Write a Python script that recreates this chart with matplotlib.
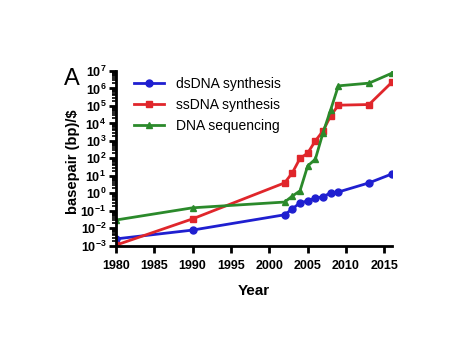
import numpy as np
import matplotlib
matplotlib.use('Agg')
import matplotlib.pyplot as plt
from matplotlib.ticker import LogLocator, FixedLocator

plt.rcParams['font.family'] = ['Liberation Sans', 'DejaVu Sans']

# ---- data ----
ds_years = [1980, 1990, 2002, 2003, 2004, 2005, 2006, 2007, 2008, 2009, 2013, 2016]
ds_vals = [0.0025, 0.008, 0.06, 0.13, 0.29, 0.37, 0.55, 0.63, 1.1, 1.2, 4, 13]

ss_years = [1980, 1990, 2002, 2003, 2004, 2005, 2006, 2007, 2008, 2009, 2013, 2016]
ss_vals = [0.0011, 0.035, 4, 15, 100, 200, 1000, 3700, 27000, 110000, 120000, 2.3e6]

seq_years = [1980, 1990, 2002, 2003, 2004, 2005, 2006, 2007, 2008, 2009, 2013, 2016]
seq_vals = [0.03, 0.15, 0.32, 0.7, 1.4, 37, 90, 2900, 60000, 1.4e6, 2e6, 7.5e6]

fig = plt.figure(figsize=(4.58, 3.6), dpi=100)
ax = fig.add_axes([0.253, 0.317, 0.603, 0.486])

ax.plot(ds_years, ds_vals, '-o', color='#1f1fd0', lw=2, ms=5, label='dsDNA synthesis')
ax.plot(ss_years, ss_vals, '-s', color='#e0262b', lw=2, ms=5, label='ssDNA synthesis')
ax.plot(seq_years, seq_vals, '-^', color='#2b8a2b', lw=2, ms=5, label='DNA sequencing')

ax.set_yscale('log')
ax.set_ylim(1e-3, 1e7)
ax.set_xlim(1980, 2016)
ax.yaxis.set_major_locator(LogLocator(base=10, numticks=20))
ax.yaxis.set_minor_locator(LogLocator(base=10, subs=np.arange(2, 10), numticks=20))
ax.xaxis.set_major_locator(FixedLocator(range(1980, 2016, 5)))

for s in ['top', 'right']:
    ax.spines[s].set_visible(False)
for s in ['left', 'bottom']:
    ax.spines[s].set_linewidth(2)

ax.tick_params(axis='both', which='major', width=2, length=5, labelsize=9)
ax.tick_params(axis='y', which='major', pad=2)
ax.tick_params(axis='x', which='major', pad=5)
ax.tick_params(axis='y', which='minor', width=1.2, length=3)
for lab in ax.get_xticklabels() + ax.get_yticklabels():
    lab.set_fontweight('bold')

ax.set_xlabel('Year', fontsize=11, fontweight='bold', labelpad=9)
ax.set_ylabel('basepair (bp)/$', fontsize=10.5, fontweight='bold')
ax.yaxis.set_label_coords(-0.13, 0.48)

ax.legend(loc='upper left', frameon=False, fontsize=10, handlelength=2.2,
          bbox_to_anchor=(0.02, 1.035), labelspacing=0.5)

fig.text(0.14, 0.764, 'A', fontsize=17)

fig.savefig('out.png', dpi=100)
